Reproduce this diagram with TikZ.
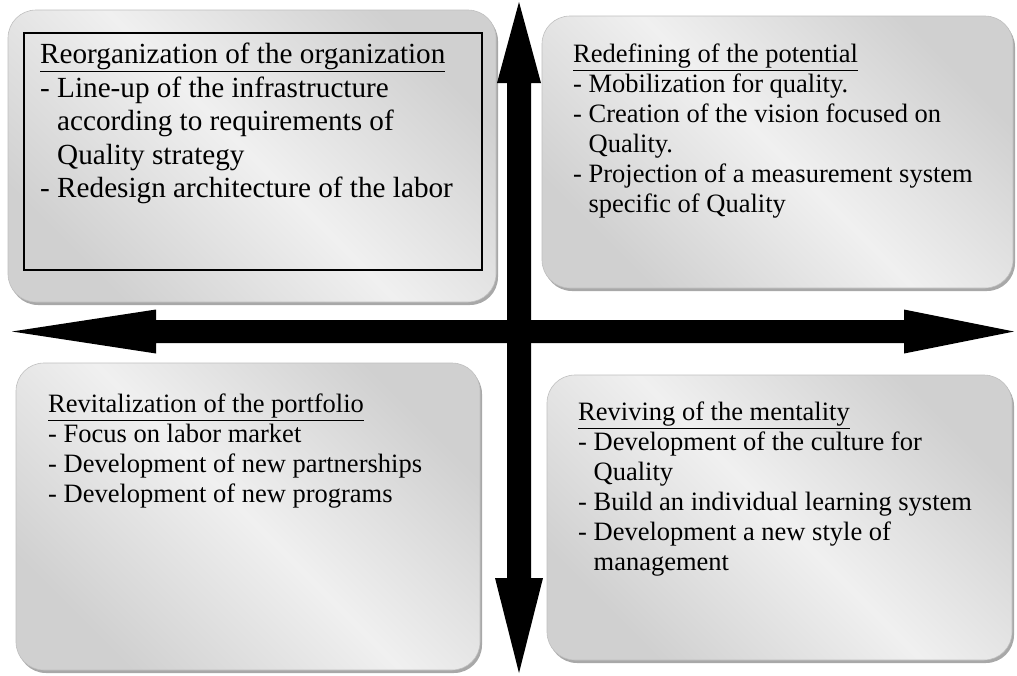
\documentclass[tikz,border=0pt]{standalone}
\usepackage{fontspec}
\setmainfont{Liberation Serif}
\usetikzlibrary{shadows}
\definecolor{quaddark}{HTML}{D0D0D0}
\definecolor{quadlight}{HTML}{F0F0F0}
\definecolor{quadrim}{HTML}{A8A8A8}
\newcommand{\hangdash}{\hphantom{-\ }}

\begin{document}
\begin{tikzpicture}[
  x=1pt, y=-1pt,
  quad/.style={
    rectangle, draw=quaddark!92!black, line width=0.6pt,
    rounded corners=28pt,
    top color=quaddark, bottom color=quaddark, middle color=quadlight,
    shading angle=-45,
    drop shadow={shadow xshift=2pt, shadow yshift=-3pt, fill=quadrim, opacity=1},
    inner sep=0pt
  },
  frame/.style={
    rectangle, draw=black, line width=1.6pt,
    fill=none, inner sep=0pt
  },
  bigtext/.style={
    anchor=north west, align=left, inner sep=0pt, text=black,
    font=\fontsize{29.2}{33.5}\selectfont
  },
  quadtext/.style={
    anchor=north west, align=left, inner sep=0pt, text=black,
    font=\fontsize{26.5}{30}\selectfont
  },
  axisarrow/.style={fill=black, draw=none}
]
\useasboundingbox (0,0) rectangle (1017,675);

% =============================================================================
% Four quadrant boxes (units = px of the 1017x675 frame, y grows downwards)
% =============================================================================

% --- Top left: Reorganization
\node[quad, minimum width=488pt, minimum height=292pt] (reorg) at (252, 156) {};
\node[frame, minimum width=458pt, minimum height=237pt] (reorgframe) at (253, 151.5) {};
\node[bigtext] (reorgtext) at (40, 43) {%
  \underline{Reorganization of the organization}\\
  - Line-up of the infrastructure\\
  \hangdash according to requirements of\\
  \hangdash Quality strategy\\
  - Redesign architecture of the labor
};

% --- Top right: Redefining
\node[quad, minimum width=471pt, minimum height=272pt] (redef) at (777.5, 152) {};
\node[quadtext] (redeftext) at (573, 44) {%
  \underline{Redefining of the potential}\\
  - Mobilization for quality.\\
  - Creation of the vision focused on\\
  \hangdash Quality.\\
  - Projection of a measurement system\\
  \hangdash specific of Quality
};

% --- Bottom left: Revitalization
\node[quad, minimum width=464pt, minimum height=307pt] (revit) at (248, 516.5) {};
\node[quadtext] (revittext) at (48, 394) {%
  \underline{Revitalization of the portfolio}\\
  - Focus on labor market\\
  - Development of new partnerships\\
  - Development of new programs
};

% --- Bottom right: Reviving
\node[quad, minimum width=465pt, minimum height=285pt] (reviv) at (779.5, 517.5) {};
\node[quadtext] (revivtext) at (578, 402) {%
  \underline{Reviving of the mentality}\\
  - Development of the culture for\\
  \hangdash Quality\\
  - Build an individual learning system\\
  - Development a new style of\\
  \hangdash management
};

% =============================================================================
% Axes (double headed block arrows)
% =============================================================================
\coordinate (axtop) at (519, 2);
\coordinate (axbottom) at (519, 673);
\coordinate (axleft) at (12, 331.5);
\coordinate (axright) at (1014, 331.5);

% --- vertical
\fill[axisarrow] (axtop) -- ++(22, 81) -- ++(-10, 0) -- ++(0, 495) -- ++(12, 0)
  -- (axbottom) -- ++(-24, -95) -- ++(12, 0) -- ++(0, -495) -- ++(-10, 0) -- cycle;
% --- horizontal
\fill[axisarrow] (axleft) -- ++(144, -22) -- ++(0, 10.5) -- ++(748, 0) -- ++(0, -10.5)
  -- (axright) -- ++(-110, 22) -- ++(0, -10.5) -- ++(-748, 0) -- ++(0, 10.5) -- cycle;

\end{tikzpicture}
\end{document}
